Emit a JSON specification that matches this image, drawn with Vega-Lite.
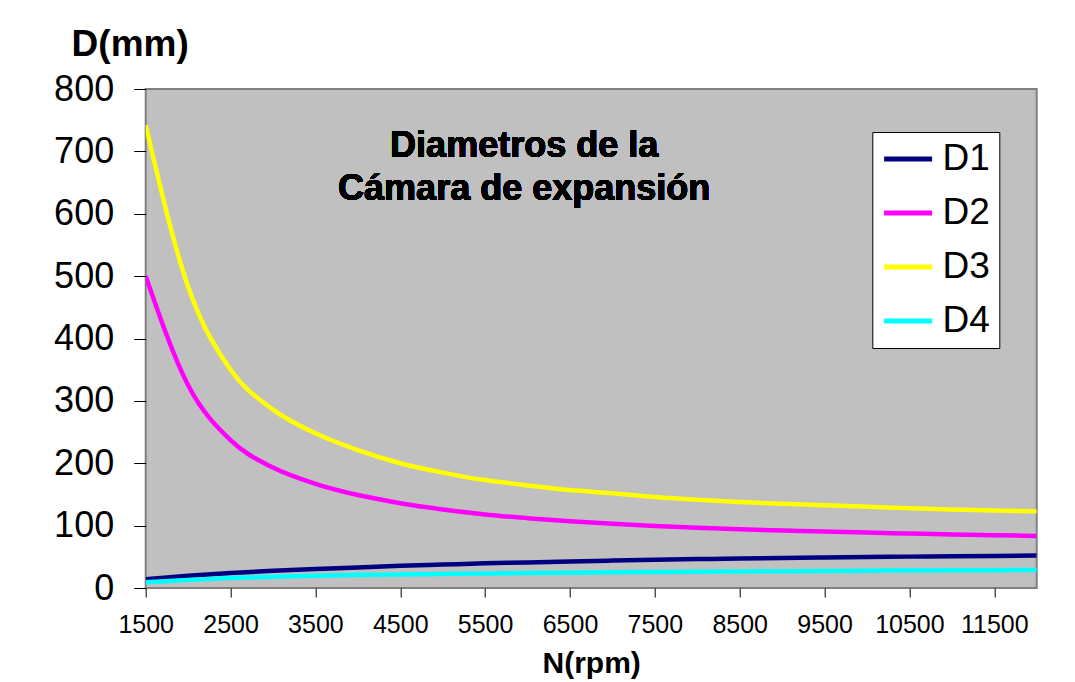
{
  "$schema": "https://vega.github.io/schema/vega-lite/v6.json",
  "autosize": {"type": "none"},
  "padding": {"left": 145.7, "top": 89, "right": 38.3, "bottom": 94},
  "width": 891,
  "height": 499,
  "background": "white",
  "config": {
    "font": "Liberation Sans",
    "view": {"fill": "#C0C0C0", "stroke": "#808080", "strokeWidth": 2},
    "axis": {"grid": false, "domain": false, "tickColor": "#000000", "tickWidth": 1, "labelColor": "#000000", "titleColor": "#000000", "labelFont": "Liberation Sans", "titleFont": "Liberation Sans"}
  },
  "data": {
    "values": [
      {"N": 1500, "D1": 14, "D2": 500, "D3": 742, "D4": 9},
      {"N": 2000, "D1": 19.5, "D2": 325, "D3": 483, "D4": 13},
      {"N": 2500, "D1": 24, "D2": 237, "D3": 350, "D4": 16},
      {"N": 3000, "D1": 27.5, "D2": 193, "D3": 286, "D4": 18},
      {"N": 3500, "D1": 30.5, "D2": 167, "D3": 248, "D4": 19.5},
      {"N": 4000, "D1": 33, "D2": 149, "D3": 221, "D4": 20.8},
      {"N": 4500, "D1": 35.5, "D2": 136, "D3": 200, "D4": 21.8},
      {"N": 5000, "D1": 37.5, "D2": 126, "D3": 185, "D4": 22.6},
      {"N": 5500, "D1": 39.5, "D2": 118, "D3": 173, "D4": 23.3},
      {"N": 6000, "D1": 41, "D2": 112, "D3": 164.5, "D4": 24},
      {"N": 6500, "D1": 42.5, "D2": 107, "D3": 157, "D4": 24.6},
      {"N": 7000, "D1": 44, "D2": 103, "D3": 152, "D4": 25.1},
      {"N": 7500, "D1": 45.3, "D2": 99.5, "D3": 146, "D4": 25.6},
      {"N": 8000, "D1": 46.3, "D2": 96.5, "D3": 141.5, "D4": 26.1},
      {"N": 8500, "D1": 47.3, "D2": 94, "D3": 138, "D4": 26.5},
      {"N": 9000, "D1": 48.2, "D2": 92, "D3": 135, "D4": 26.9},
      {"N": 9500, "D1": 49, "D2": 90.5, "D3": 132.8, "D4": 27.3},
      {"N": 10000, "D1": 49.7, "D2": 88.8, "D3": 130.3, "D4": 27.7},
      {"N": 10500, "D1": 50.3, "D2": 87.3, "D3": 128, "D4": 28},
      {"N": 11000, "D1": 51, "D2": 85.8, "D3": 126, "D4": 28.3},
      {"N": 11500, "D1": 51.5, "D2": 84.6, "D3": 124.3, "D4": 28.6},
      {"N": 12000, "D1": 52, "D2": 83.5, "D3": 123, "D4": 28.8}
    ]
  },
  "layer": [
    {
      "transform": [{"fold": ["D1", "D2", "D3", "D4"], "as": ["serie", "D"]}],
      "mark": {"type": "line", "strokeWidth": 4.5, "clip": true, "interpolate": "monotone"},
      "encoding": {
        "x": {
          "field": "N", "type": "quantitative",
          "scale": {"domain": [1500, 12000], "nice": false, "zero": false},
          "axis": {
            "values": [1500, 2500, 3500, 4500, 5500, 6500, 7500, 8500, 9500, 10500, 11500],
            "format": "d", "labelFontSize": 25, "tickSize": 9, "labelPadding": 15,
            "labelFlush": false, "labelOverlap": false,
            "title": "N(rpm)", "titleFontSize": 30, "titleFontWeight": "bold",
            "titleBaseline": "alphabetic", "titleY": 84
          }
        },
        "y": {
          "field": "D", "type": "quantitative",
          "scale": {"domain": [0, 800], "nice": false},
          "axis": {
            "values": [0, 100, 200, 300, 400, 500, 600, 700, 800],
            "format": "d", "labelFontSize": 36, "tickSize": 12, "labelPadding": 20,
            "labelFlush": false, "labelOverlap": false,
            "title": "D(mm)", "titleFontSize": 37, "titleFontWeight": "bold",
            "titleAngle": 0, "titleAlign": "center", "titleBaseline": "alphabetic",
            "titleX": -16, "titleY": -34
          }
        },
        "color": {
          "field": "serie", "type": "nominal",
          "scale": {"domain": ["D1", "D2", "D3", "D4"], "range": ["#000080", "#FF00FF", "#FFFF00", "#00FFFF"]},
          "legend": {
            "title": null, "orient": "none", "legendX": 726.6, "legendY": 43,
            "fillColor": "white", "strokeColor": "black",
            "padding": 8.5, "symbolType": "M-2.533,0H5.467", "symbolSize": 144,
            "symbolStrokeWidth": 5, "labelFontSize": 37, "labelFont": "Liberation Sans",
            "labelColor": "black", "labelOffset": 24.8, "rowPadding": 16
          }
        }
      }
    },
    {
      "mark": {
        "type": "text",
        "font": "Liberation Sans", "fontSize": 36, "fontWeight": "bold",
        "align": "center", "baseline": "alphabetic", "lineHeight": 42.6,
        "fill": "#000000", "strokeWidth": 0
      },
      "encoding": {
        "text": {"value": ["Diametros de la", "Cámara de expansión"]},
        "x": {"datum": 5960, "type": "quantitative"},
        "y": {"datum": 691, "type": "quantitative"}
      }
    }
  ]
}
